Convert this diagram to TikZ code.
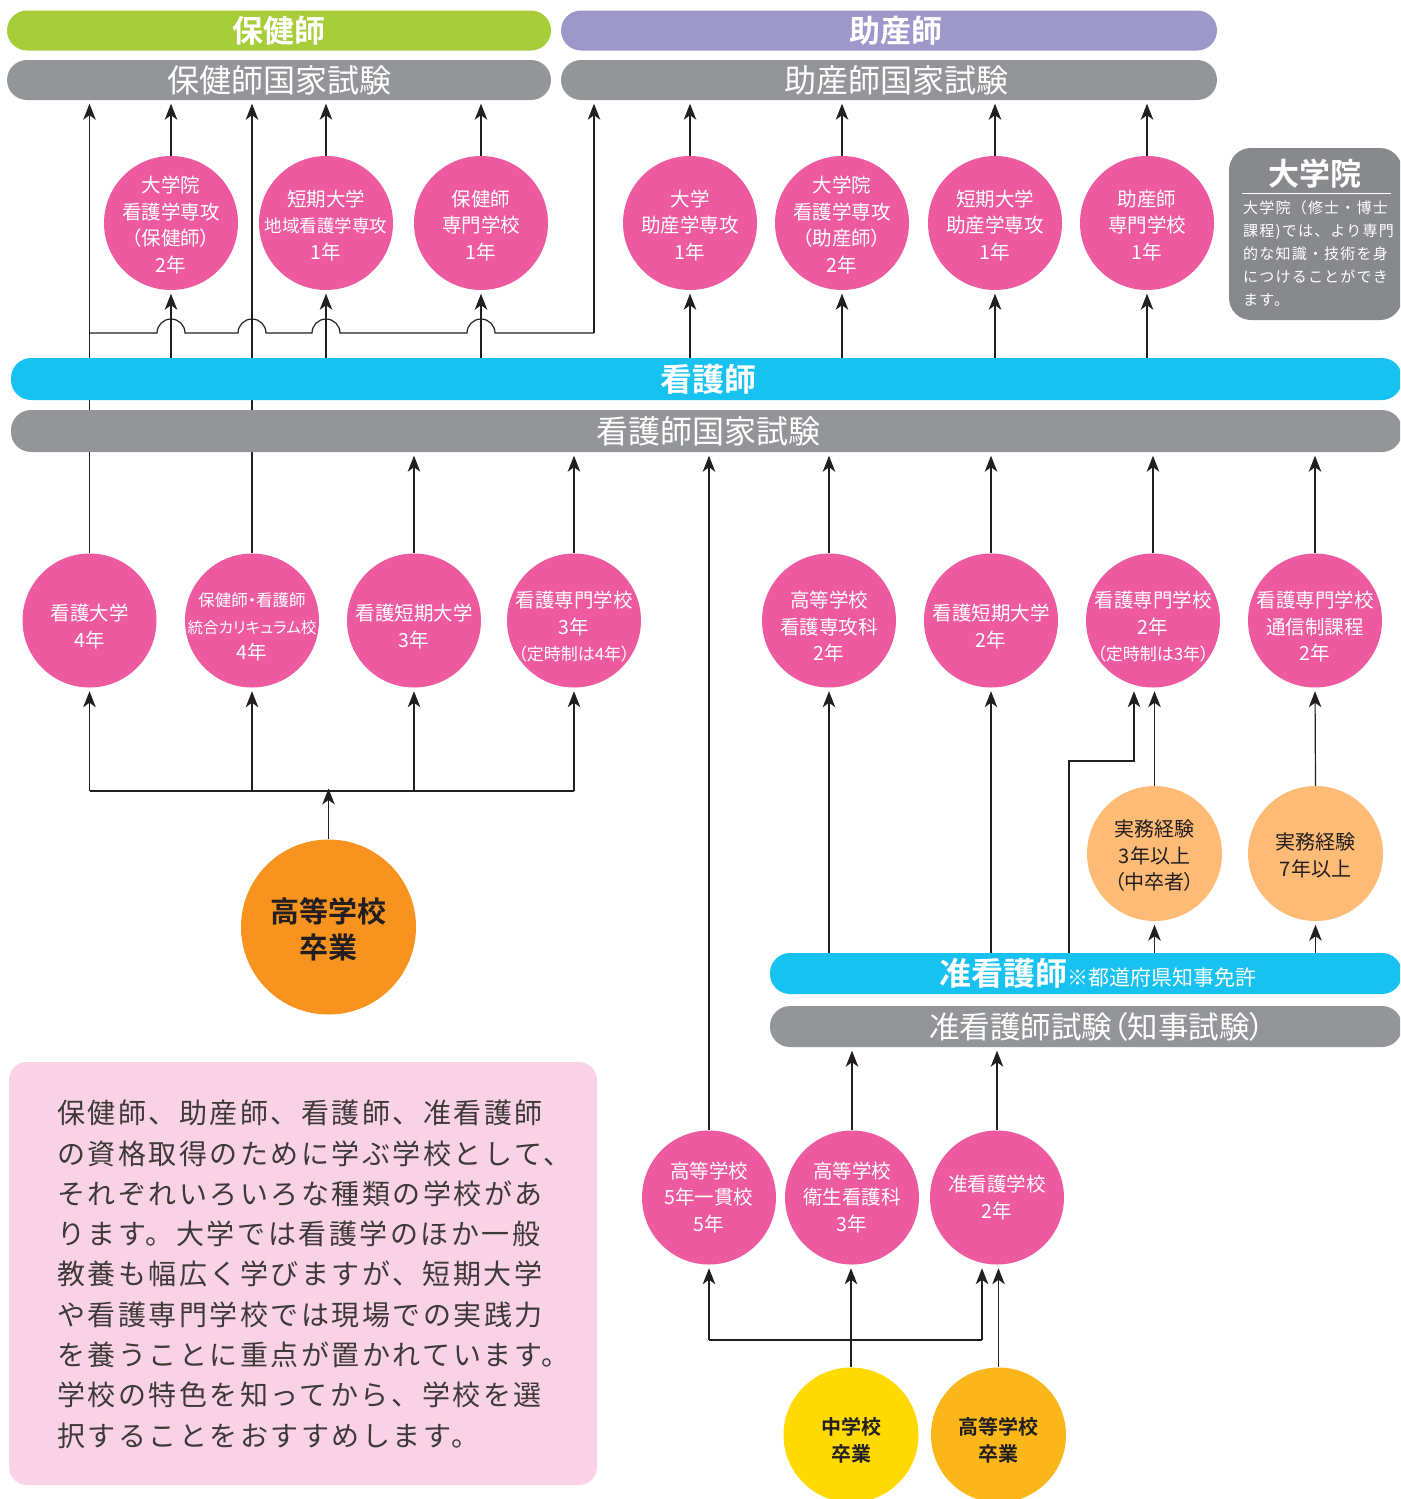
\documentclass[tikz,border=0pt]{standalone}
\usepackage{fontspec}
\setmainfont{Noto Sans CJK JP}[BoldFont={Noto Sans CJK JP Bold}]
\newfontfamily\cfont{Noto Sans CJK JP}[RawFeature=+palt,BoldFont={Noto Sans CJK JP Bold}]
\newfontfamily\bodyfont{Noto Sans CJK JP}[LetterSpace=9]
\newfontfamily\boxfont{Noto Sans CJK JP}[LetterSpace=8]
\usetikzlibrary{arrows.meta}
\pgfdeclarelayer{background}
\pgfsetlayers{background,main}
\definecolor{pinkc}{HTML}{EE5A9F}
\definecolor{cyanc}{HTML}{17C1F0}
\definecolor{grayc}{HTML}{939598}
\definecolor{greenc}{HTML}{A7CE39}
\definecolor{purplec}{HTML}{9D97CA}
\definecolor{orangec}{HTML}{F7931E}
\definecolor{lorangec}{HTML}{FDBB76}
\definecolor{yellowc}{HTML}{FFD900}
\definecolor{amberc}{HTML}{FBB619}
\definecolor{boxpink}{HTML}{F9D3E5}
\definecolor{inkc}{HTML}{231F20}
\definecolor{bodyc}{HTML}{3E3A39}
\newcommand\dn[1]{\rule{0pt}{#1}}
\begin{document}
\begin{tikzpicture}[x=1pt,y=-1pt,
  bar/.style={rectangle, rounded corners=20pt, inner sep=0pt, minimum height=41pt, text=white, font=\cfont\fontsize{32}{32}\selectfont},
  pc/.style={circle, fill=pinkc, minimum size=134pt, inner sep=-40pt, align=center, text=white, font=\cfont\fontsize{19.5}{26.5}\selectfont},
  oc/.style={circle, fill=lorangec, minimum size=135pt, inner sep=-40pt, align=center, text=inkc, font=\cfont\fontsize{20}{26.5}\selectfont},
  line/.style={draw=inkc, line width=1.2pt},
  arr/.style={line, -{Stealth[length=16pt,width=12.5pt,inset=4.5pt]}, shorten >=3.5pt}
]
\useasboundingbox (0,0) rectangle (1400,1499);
\clip (0,0) rectangle (1400,1499);

% ---------- bars ----------
\node[bar, fill=greenc, minimum width=544pt, minimum height=40pt, font=\cfont\bfseries\fontsize{31}{31}\selectfont] (hb) at (279,30.5) {保健師};
\node[bar, fill=purplec, minimum width=656pt, minimum height=40pt, font=\cfont\bfseries\fontsize{31}{31}\selectfont] (jbtop) at (889,30.5) {\hspace*{14pt}助産師};
\node[bar, fill=grayc, minimum width=544pt, minimum height=40pt] (hx) at (279,80) {保健師国家試験};
\node[bar, fill=grayc, minimum width=656pt, minimum height=40pt] (jx) at (889,80) {\hspace*{14pt}助産師国家試験};

\node[bar, fill=cyanc, minimum width=1391pt, minimum height=42pt, font=\cfont\bfseries\fontsize{32}{32}\selectfont] (kb) at (706.5,379) {\hspace*{3pt}看護師};
\node[bar, fill=grayc, minimum width=1391pt, minimum height=42pt, font=\cfont\fontsize{32}{32}\selectfont] (kx) at (706.5,431) {\hspace*{3pt}看護師国家試験};

\node[bar, fill=cyanc, minimum width=632pt, minimum height=41pt] (ab) at (1086,973.5) {\hspace*{24pt}{\bfseries\fontsize{32}{32}\selectfont 准看護師}{\fontsize{21}{21}\selectfont ※都道府県知事免許}};
\node[bar, fill=grayc, minimum width=632pt, minimum height=41pt, font=\cfont\fontsize{30.5}{30.5}\selectfont] (ax) at (1086,1026.5) {\hspace*{22pt}准看護師試験（知事試験）};

% ---------- graduate school box ----------
\node[rectangle, rounded corners=22pt, fill=grayc!92!black, minimum width=173pt, minimum height=172pt, inner sep=0pt] (gs) at (1315.5,234) {};
\node[text=white, font=\cfont\bfseries\fontsize{31}{31}\selectfont, inner sep=0pt] (gst) at (1315,174) {大学院};
\draw[white, line width=0.8pt] (gs.west |- 0,193) ++(13,0) coordinate (gsl) -- ++(149,0) coordinate (gsr);
\node[anchor=north west, inner sep=0pt, align=left, text=white, font=\boxfont\fontsize{15}{23}\selectfont] (gsx) at (1243,200) {大学院（修士・博士\\課程)では、より専門\\的な知識・技術を身\\につけることができ\\ます。};

% ---------- top circles ----------
\node[pc] (u1) at (171,223) {\dn{21pt}大学院\\看護学専攻\\（保健師）\\2年};
\node[pc] (u2) at (326,223) {\dn{21pt}短期大学\\{\fontsize{17.5}{26.5}\selectfont 地域看護学専攻}\\1年};
\node[pc] (u3) at (481,223) {\dn{21pt}保健師\\専門学校\\1年};
\node[pc] (v1) at (690,223) {\dn{21pt}大学\\助産学専攻\\1年};
\node[pc] (v2) at (842,223) {\dn{21pt}大学院\\看護学専攻\\（助産師）\\2年};
\node[pc] (v3) at (995,223) {\dn{21pt}短期大学\\助産学専攻\\1年};
\node[pc] (v4) at (1147,223) {\dn{21pt}助産師\\専門学校\\1年};

% ---------- middle circles ----------
\node[pc] (m1) at (89.5,620.5) {\dn{29pt}看護大学\\4年};
\node[pc] (m2) at (252,620.5) {\dn{27pt}{\fontsize{16.5}{26.5}\selectfont 保健師・看護師}\\{\fontsize{15.5}{26.5}\selectfont 統合カリキュラム校}\\4年};
\node[pc] (m3) at (414,620.5) {\dn{29pt}看護短期大学\\3年};
\node[pc] (m4) at (574,620.5) {\dn{29pt}看護専門学校\\3年\\{\fontsize{17}{26.5}\selectfont （定時制は4年）}};
\node[pc] (m5) at (829,620.5) {\dn{29pt}高等学校\\看護専攻科\\2年};
\node[pc] (m6) at (991,620.5) {\dn{29pt}看護短期大学\\2年};
\node[pc] (m7) at (1153,620.5) {\dn{29pt}看護専門学校\\2年\\{\fontsize{17}{26.5}\selectfont （定時制は3年）}};
\node[pc] (m8) at (1315,620.5) {\dn{29pt}看護専門学校\\通信制課程\\2年};

% ---------- experience circles ----------
\node[oc] (e1) at (1154.5,853.5) {\dn{21pt}実務経験\\3年以上\\（中卒者）};
\node[oc] (e2) at (1315.5,853.5) {\dn{21pt}実務経験\\7年以上};

% ---------- high school graduate ----------
\node[circle, fill=orangec, minimum size=175pt, inner sep=-40pt, align=center, text=inkc, font=\cfont\bfseries\fontsize{29}{36}\selectfont] (hs) at (328.5,927) {\dn{30pt}高等学校\\卒業};

% ---------- bottom circles ----------
\node[pc] (b1) at (709,1197.5) {高等学校\\5年一貫校\\5年};
\node[pc] (b2) at (852,1197.5) {高等学校\\衛生看護科\\3年};
\node[pc] (b3) at (997,1197.5) {准看護学校\\2年};

\node[circle, fill=yellowc, minimum size=135pt, inner sep=-40pt, align=center, text=inkc, font=\cfont\bfseries\fontsize{20}{27}\selectfont] (g1) at (851,1435) {\dn{28pt}中学校\\卒業};
\node[circle, fill=amberc, minimum size=135pt, inner sep=-40pt, align=center, text=inkc, font=\cfont\bfseries\fontsize{20}{27}\selectfont] (g2) at (998.5,1435) {\dn{28pt}高等学校\\卒業};

% ---------- text box ----------
\node[rectangle, rounded corners=18pt, fill=boxpink, minimum width=588pt, minimum height=423pt, inner sep=0pt] (tb) at (303,1273.5) {};
\node[anchor=north west, inner sep=0pt, align=left, text=bodyc, font=\bodyfont\fontsize{28}{40.3}\selectfont] (tbt) at (57,1100) {保健師、助産師、看護師、准看護師\\の資格取得のために学ぶ学校として、\\それぞれいろいろな種類の学校があ\\ります。大学では看護学のほか一般\\教養も幅広く学びますが、短期大学\\や看護専門学校では現場での実践力\\を養うことに重点が置かれています。\\学校の特色を知ってから、学校を選\\択することをおすすめします。};

% ---------- connectors ----------
\begin{pgfonlayer}{background}
% to 保健師国家試験 / 助産師国家試験
\draw[arr] (m1.north) -- (m1.north |- hx.south);
\draw[arr] (m2.north) -- (m2.north |- hx.south);
\foreach \c in {u1,u2,u3}{
  \draw[arr] (\c.north) -- (\c.north |- hx.south);
  \draw[arr] (\c.south |- kb.north) -- (\c.south);
}
\foreach \c in {v1,v2,v3,v4}{
  \draw[arr] (\c.north) -- (\c.north |- jx.south);
  \draw[arr] (\c.south |- kb.north) -- (\c.south);
}
% hop line from 看護大学 to 助産師国家試験
\coordinate (hj) at (594,333);
\draw[line] (m1.north |- hj) -- ([xshift=-14pt]u1.south |- hj) arc (180:360:14)
  -- ([xshift=-14pt]m2.north |- hj) arc (180:360:14)
  -- ([xshift=-14pt]u2.south |- hj) arc (180:360:14)
  -- ([xshift=-14pt]u3.south |- hj) arc (180:360:14)
  -- (hj);
\draw[arr] (hj) -- (hj |- jx.south);

% to 看護師国家試験
\foreach \c in {m3,m4,m5,m6,m7,m8}{
  \draw[arr] (\c.north) -- (\c.north |- kx.south);
}
\draw[arr] (b1.north) -- (b1.north |- kx.south);

% from 高等学校卒業
\coordinate (hsj) at (328.5,791);
\draw[line] (m1.south |- hsj) -- (m4.south |- hsj);
\foreach \c in {m1,m2,m3,m4}{
  \draw[arr] (\c.south |- hsj) -- (\c.south);
}
\draw[arr] (hs.north) -- ([yshift=6pt]hsj);

% from 准看護師
\draw[arr] (m5.south |- ab.north) -- (m5.south);
\draw[arr] (m6.south |- ab.north) -- (m6.south);
\coordinate (kj1) at (1069,761);
\coordinate (kj2) at (1134,761);
\draw[arr] (kj1 |- ab.north) -- (kj1) -- (kj2) -- (kj2 |- m7.south);
\draw[arr] (e1.north) -- (e1.north |- m7.south);
\draw[arr] (e1.south |- ab.north) -- (e1.south);
\draw[arr] (e2.north) -- (m8.south);
\draw[arr] (e2.south |- ab.north) -- (e2.south);

% to 准看護師試験
\draw[arr] (b2.north) -- (b2.north |- ax.south);
\draw[arr] (b3.north) -- (b3.north |- ax.south);

% from 中学校卒業 / 高等学校卒業
\coordinate (cj) at (851,1340);
\coordinate (cj3) at (982,1340);
\draw[line] (b1.south |- cj) -- (cj3);
\draw[arr] (b1.south |- cj) -- (b1.south);
\draw[arr] (cj3) -- (cj3 |- b3.south);
\draw[arr] (g1.north) -- (g1.north |- b2.south);
\draw[arr] (g2.north) -- (g2.north |- b3.south);
\end{pgfonlayer}
\end{tikzpicture}
\end{document}
